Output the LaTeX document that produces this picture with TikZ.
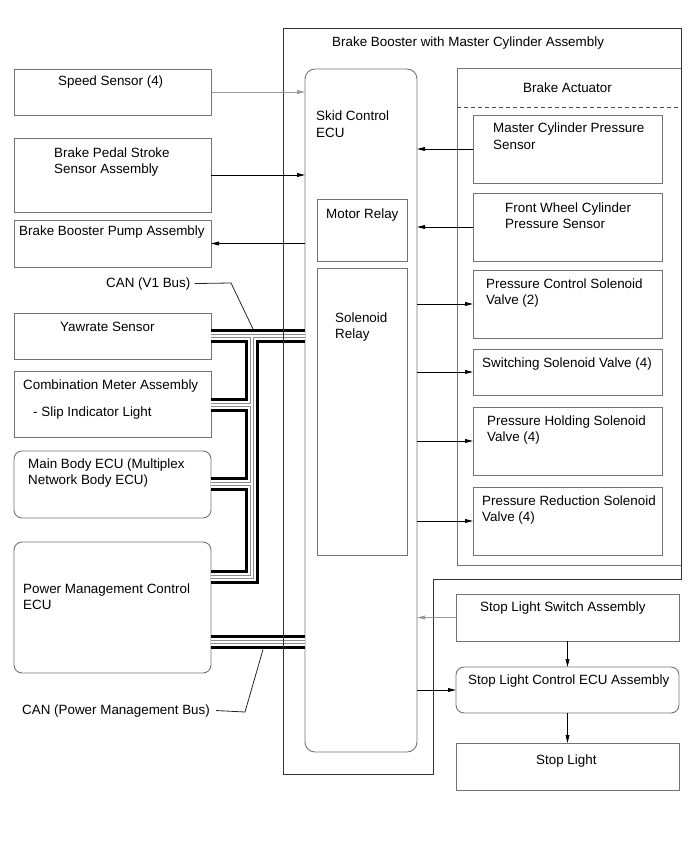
\documentclass[tikz,border=0pt]{standalone}
\usepackage{fontspec}
\setmainfont{Liberation Sans}
\usetikzlibrary{arrows.meta,calc}
\begin{document}
\begin{tikzpicture}[x=1pt,y=-1pt,
  box/.style={draw=black!55, line width=0.9pt, anchor=north west, inner sep=0pt, outer sep=0pt},
  rbox/.style={box, rounded corners=8pt},
  txt/.style={anchor=base west, inner sep=0pt, font=\fontsize{13.4}{16.5}\selectfont, align=left},
  arr/.style={draw=black, line width=0.8pt, -{Triangle[length=8pt,width=3.8pt]}},
  garr/.style={arr, draw=black!40},
  leader/.style={draw=black!85, line width=0.8pt},
  outline/.style={draw=black!80, line width=0.8pt}
]
\useasboundingbox (0,0) rectangle (689,853);

% left column boxes
\node[box, minimum width=197pt, minimum height=46pt] (speed) at (14,69) {};
\node[box, minimum width=197pt, minimum height=74pt] (pedal) at (14,138) {};
\node[box, minimum width=197pt, minimum height=47pt] (pump) at (14,220) {};
\node[box, minimum width=197pt, minimum height=46pt] (yaw) at (14,313) {};
\node[box, minimum width=197pt, minimum height=66pt] (combi) at (14,371) {};
\node[rbox, minimum width=197pt, minimum height=67pt] (mainbody) at (14,451) {};
\node[rbox, minimum width=197pt, minimum height=131pt] (pmecu) at (14,542) {};

% skid control ECU
\node[box, rounded corners=10pt, minimum width=112pt, minimum height=683pt] (ecu) at (305,69) {};
\node[box, minimum width=90pt, minimum height=62pt] (motor) at (317,199) {};
\node[box, minimum width=90pt, minimum height=287pt] (solenoid) at (317,268) {};

% brake actuator
\node[box, minimum width=224pt, minimum height=497pt] (act) at (457,68) {};
\draw[draw=black!70, line width=0.7pt, dash pattern=on 4pt off 3pt] (act.west |- 0,107) coordinate (dl) -- (act.east |- 0,107) coordinate (dr);
\node[box, minimum width=189pt, minimum height=68pt] (mcps) at (473,115) {};
\node[box, minimum width=189pt, minimum height=68pt] (fwcps) at (473,193) {};
\node[box, minimum width=189pt, minimum height=68pt] (pcsv) at (473,270) {};
\node[box, minimum width=189pt, minimum height=46pt] (ssv) at (473,349) {};
\node[box, minimum width=189pt, minimum height=68pt] (phsv) at (473,407) {};
\node[box, minimum width=189pt, minimum height=68pt] (prsv) at (473,487) {};

% stop light chain
\node[box, minimum width=223pt, minimum height=47pt] (sls) at (456,594) {};
\node[rbox, minimum width=223pt, minimum height=46pt] (slc) at (456,667) {};
\node[box, minimum width=223pt, minimum height=47pt] (sl) at (456,743) {};

% CAN cables (union drawn in layers)
\coordinate (vj) at (252,336);
\coordinate (vb) at (252,577);
\coordinate (vc) at (252,405);
\coordinate (vd) at (252,484);
\foreach \w/\c in {14.5/black, 8/white, 4.4/black!45, 2.8/white} {
  \draw[line width=\w pt, draw=\c]
    (ecu.west |- yaw.east) -- (vj) -- (vb) -- (pmecu.east |- vb)
    (vj) -- (yaw.east)
    (vc) -- (combi.east |- vc)
    (vd) -- (mainbody.east |- vd)
    (pmecu.east |- 0,642) -- (ecu.west |- 0,642);
}

% outer assembly outline
\draw[outline] (283,28) -- (681,28) -- (681,579) -- (433,579) -- (433,774) -- (283,774) -- cycle;

% arrows
\draw[garr] (speed.east) -- (speed.east -| ecu.west);
\draw[arr] (pedal.east) -- (pedal.east -| ecu.west);
\draw[arr] (pump.east -| ecu.west) -- (pump.east);
\draw[arr] (mcps.west) -- (mcps.west -| ecu.east);
\draw[arr] (fwcps.west) -- (fwcps.west -| ecu.east);
\draw[arr] (pcsv.west -| ecu.east) -- (pcsv.west);
\draw[arr] (ssv.west -| ecu.east) -- (ssv.west);
\draw[arr] (phsv.west -| ecu.east) -- (phsv.west);
\draw[arr] (prsv.west -| ecu.east) -- (prsv.west);
\draw[garr] (sls.west) -- (sls.west -| ecu.east);
\draw[arr] (slc.west -| ecu.east) -- (slc.west);
\draw[arr] (sls.south) -- (slc.north);
\draw[arr] (slc.south) -- (sl.north);

% texts (multi-line nodes: base = baseline of last line)
\node[txt] (ttitle) at (332,47) {Brake Booster with Master Cylinder Assembly};
\node[txt] (tspeed) at (58,86) {Speed Sensor (4)};
\node[txt] (tpedal) at (54,173.5) {Brake Pedal Stroke\\Sensor Assembly};
\node[txt] (tpump) at (19,235) {Brake Booster Pump Assembly};
\node[txt] (tcanv) at (106,287) {CAN (V1 Bus)};
\node[txt] (tyaw) at (60,331) {Yawrate Sensor};
\node[txt] (tcombi) at (23,389) {Combination Meter Assembly};
\node[txt] (tslip) at (33,416) {- Slip Indicator Light};
\node[txt] (tmain) at (28,484.5) {Main Body ECU (Multiplex\\Network Body ECU)};
\node[txt] (tpm) at (23,609.5) {Power Management Control\\ECU};
\node[txt] (tcanpm) at (22,714) {CAN (Power Management Bus)};
\node[txt] (tecu) at (316,137.5) {Skid Control\\ECU};
\node[txt] (tmotor) at (326,218) {Motor Relay};
\node[txt] (tsol) at (335,338.5) {Solenoid\\Relay};
\node[txt] (tact) at (523,93) {Brake Actuator};
\node[txt] (tmcps) at (493,149.5) {Master Cylinder Pressure\\Sensor};
\node[txt] (tfwcps) at (505,228.5) {Front Wheel Cylinder\\Pressure Sensor};
\node[txt] (tpcsv) at (486,304.5) {Pressure Control Solenoid\\Valve (2)};
\node[txt] (tssv) at (482,367.5) {Switching Solenoid Valve (4)};
\node[txt] (tphsv) at (487,441.5) {Pressure Holding Solenoid\\Valve (4)};
\node[txt] (tprsv) at (482,521.5) {Pressure Reduction Solenoid\\Valve (4)};
\node[txt] (tsls) at (480,611) {Stop Light Switch Assembly};
\node[txt] (tslc) at (468,684) {Stop Light Control ECU Assembly};
\node[txt] (tsl) at (536,764) {Stop Light};

% leader lines
\coordinate (v1top) at (253,329);
\coordinate (pmbot) at (263,649.5);
\draw[leader] ([xshift=4pt]tcanv.east) -- (231,283) -- (v1top);
\draw[leader] ([xshift=6pt]tcanpm.east) -- (245,712) -- (pmbot);
\end{tikzpicture}
\end{document}
